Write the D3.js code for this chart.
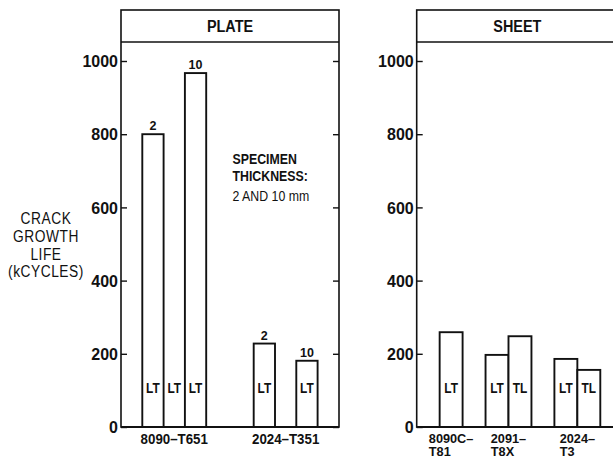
<!DOCTYPE html>
<html>
<head>
<meta charset="utf-8">
<script src="https://cdn.jsdelivr.net/npm/d3@7"></script>
<style>
  html, body { margin: 0; padding: 0; background: #fff; }
  svg { display: block; }
  text { font-family: "Liberation Sans", Arial, Helvetica, sans-serif; fill: #111; }
</style>
</head>
<body>
<svg id="chart" width="613" height="459"></svg>
<script>
// Crack growth life (kcycles) by alloy, product form and orientation
const yTicks = [0, 200, 400, 600, 800, 1000];
const yLabelLines = ["CRACK", "GROWTH", "LIFE", "(kCYCLES)"];

// Plate: three slots per alloy (2 mm, middle, 10 mm)
const plateTitle = "PLATE";
const plateGroups = [["8090\u2013T651"], ["2024\u2013T351"]];
const plateLife = [[800, null, 967], [228, null, 181]];
const plateThickness = [["2", null, "10"], ["2", null, "10"]];
const plateOrientation = [["LT", "LT", "LT"], ["LT", null, "LT"]];
const noteLines = ["SPECIMEN", "THICKNESS:", "2 AND 10 mm"];

// Sheet
const sheetTitle = "SHEET";
const sheetGroups = [["8090C\u2013", "T81"], ["2091\u2013", "T8X"], ["2024\u2013", "T3"]];
const sheetLife = [[259], [197, 248], [186, 156]];
const sheetThickness = [[null], [null, null], [null, null]];
const sheetOrientation = [["LT"], ["LT", "TL"], ["LT", "TL"]];

const svg = d3.select("#chart");
const ink = "#111";

const yTop = 10, yBand = 42, yBase = 427;
const y = d3.scaleLinear().domain([0, 1000]).range([yBase, 61]);

// rescale text horizontally (condensed or widened lettering)
function condense(sel, k) {
  sel.each(function () {
    const w = this.getComputedTextLength();
    d3.select(this).attr("textLength", w * k).attr("lengthAdjust", "spacingAndGlyphs");
  });
}

function panel(cfg) {
  const g = svg.append("g");
  const { x0, x1, unit, lead, gap } = cfg;
  const nSlots = (x1 - x0) / unit;
  const x = d3.scaleLinear().domain([0, nSlots]).range([x0, x1]);

  // slot layout of each group
  let start = lead;
  const groups = cfg.life.map((vals, gi) => {
    const grp = { gi, start, n: vals.length };
    start += vals.length + gap;
    return grp;
  });

  // frame and title band
  g.append("rect")
    .attr("x", x0).attr("y", yTop).attr("width", x1 - x0).attr("height", yBase - yTop)
    .attr("fill", "none").attr("stroke", ink).attr("stroke-width", 1.6);
  g.append("line")
    .attr("x1", x0).attr("x2", x1).attr("y1", yBand).attr("y2", yBand)
    .attr("stroke", ink).attr("stroke-width", 1.6);
  g.append("text")
    .attr("x", (x0 + x1) / 2).attr("y", 32)
    .attr("text-anchor", "middle").attr("font-size", 16).attr("font-weight", "bold")
    .text(cfg.title)
    .call(condense, 0.9);

  // left axis: inward ticks, labels outside
  const axL = g.append("g").attr("transform", `translate(${x0},0)`)
    .call(d3.axisLeft(y).tickValues(yTicks).tickSize(-6).tickPadding(3).tickFormat(d3.format("d")));
  axL.select(".domain").remove();
  axL.selectAll("line").attr("stroke", ink).attr("stroke-width", 1.4);
  axL.selectAll("text").attr("font-size", 16).attr("font-weight", "bold")
    .attr("font-family", null).attr("fill", ink).attr("dy", "0.36em");

  if (cfg.rightTicks) {
    const axR = g.append("g").attr("transform", `translate(${x1},0)`)
      .call(d3.axisRight(y).tickValues(yTicks).tickSize(-6).tickFormat(""));
    axR.select(".domain").remove();
    axR.selectAll("line").attr("stroke", ink).attr("stroke-width", 1.4);
  }

  // bars
  const bars = [];
  groups.forEach(grp => {
    cfg.life[grp.gi].forEach((v, i) => {
      bars.push({
        value: v,
        slot: grp.start + i,
        thick: cfg.thickness[grp.gi][i],
        orient: cfg.orientation[grp.gi][i]
      });
    });
  });

  g.selectAll("rect.bar").data(bars.filter(d => d.value != null)).join("rect")
    .attr("class", "bar")
    .attr("x", d => x(d.slot)).attr("width", d => x(d.slot + 1) - x(d.slot))
    .attr("y", d => y(d.value)).attr("height", d => y(0) - y(d.value))
    .attr("fill", "#fff").attr("stroke", ink).attr("stroke-width", 1.9);

  // baseline drawn over bar bottoms
  g.append("line")
    .attr("x1", x0).attr("x2", x1).attr("y1", yBase).attr("y2", yBase)
    .attr("stroke", ink).attr("stroke-width", 1.8);

  // thickness labels above bars
  g.selectAll("text.thick").data(bars.filter(d => d.value != null && d.thick)).join("text")
    .attr("class", "thick")
    .attr("x", d => x(d.slot + 0.5)).attr("y", d => y(d.value) - 4)
    .attr("text-anchor", "middle").attr("font-size", 12.5).attr("font-weight", "bold")
    .text(d => d.thick);

  // orientation labels inside bars
  g.selectAll("text.orient").data(bars.filter(d => d.orient)).join("text")
    .attr("class", "orient")
    .attr("x", d => x(d.slot + 0.5)).attr("y", yBase - 34.5)
    .attr("text-anchor", "middle").attr("font-size", 14).attr("font-weight", "bold")
    .text(d => d.orient)
    .call(condense, 0.85);

  // group labels under the axis
  groups.forEach(grp => {
    const cx = x(grp.start + grp.n / 2);
    const lines = cfg.groups[grp.gi];
    const fs = cfg.labelSize;
    const first = g.append("text")
      .attr("x", cx).attr("y", cfg.labelY)
      .attr("text-anchor", "middle").attr("font-size", fs).attr("font-weight", "bold")
      .text(lines[0])
      .call(condense, cfg.labelCondense);
    const left = first.node().getBBox().x;
    lines.slice(1).forEach((ln, j) => {
      g.append("text")
        .attr("x", left).attr("y", cfg.labelY + 13.5 * (j + 1))
        .attr("font-size", fs).attr("font-weight", "bold")
        .text(ln)
        .call(condense, cfg.labelCondense);
    });
  });

  return { g, x };
}

const plate = panel({
  title: plateTitle, x0: 121, x1: 339, unit: 21.3, lead: 1, gap: 2.23,
  groups: plateGroups, life: plateLife, thickness: plateThickness,
  orientation: plateOrientation, rightTicks: true,
  labelSize: 14, labelY: 444, labelCondense: 0.95
});

panel({
  title: sheetTitle, x0: 416.7, x1: 618, unit: 22.95, lead: 1, gap: 1,
  groups: sheetGroups, life: sheetLife, thickness: sheetThickness,
  orientation: sheetOrientation, rightTicks: false,
  labelSize: 12, labelY: 442.5, labelCondense: 1.06
});

// specimen note inside the plate panel
const noteY = [164, 181, 200.5];
plate.g.selectAll("text.note").data(noteLines).join("text")
  .attr("class", "note")
  .attr("x", 232.5).attr("y", (d, i) => noteY[i])
  .attr("font-size", 14)
  .attr("font-weight", (d, i) => i < 2 ? "bold" : "normal")
  .text(d => d)
  .call(condense, 0.88);

// y-axis title
const yLabelY = [223.5, 241.5, 259.5, 277];
svg.selectAll("text.ylab").data(yLabelLines).join("text")
  .attr("class", "ylab")
  .attr("x", 46).attr("y", (d, i) => yLabelY[i])
  .attr("text-anchor", "middle").attr("font-size", 16)
  .attr("letter-spacing", 0.6)
  .text(d => d)
  .call(condense, 0.86);
</script>
</body>
</html>
